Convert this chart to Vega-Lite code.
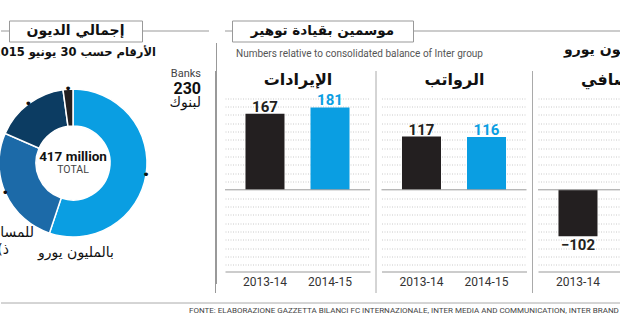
{
  "$schema": "https://vega.github.io/schema/vega-lite/v6.json",
  "autosize": "pad",
  "padding": {"left": -8, "top": 19.5, "right": 0, "bottom": 0},
  "config": {"view": {"stroke": null}, "font": "DejaVu Sans"},
  "resolve": {"scale": {"color": "independent"}},
  "datasets": {
    "debt": [
      {"source": "Banks", "value": 230},
      {"source": "Shareholders", "value": 110},
      {"source": "Other lenders", "value": 68},
      {"source": "Other", "value": 9}
    ],
    "seasons": [
      {"metric": "revenue", "season": "2013-14", "value": 167},
      {"metric": "revenue", "season": "2014-15", "value": 181},
      {"metric": "wages", "season": "2013-14", "value": 117},
      {"metric": "wages", "season": "2014-15", "value": 116},
      {"metric": "net", "season": "2013-14", "value": -102},
      {"metric": "net", "season": "2014-15", "value": -140}
    ]
  },
  "spacing": 9.5,
  "vconcat": [
    {
      "spacing": -1,
      "resolve": {"scale": {"color": "independent"}},
      "hconcat": [
        {
          "spacing": 0,
          "vconcat": [
            {
              "spacing": 0,
              "bounds": "flush",
              "hconcat": [
                {"width": 8, "height": 21, "data": {"values": [{"part": "frame"}]}, "mark": {"type": "rule", "color": "#999"}, "encoding": {"y": {"datum": 0, "type": "quantitative", "scale": {"domain": [-1, 1]}, "axis": null}}},
                {"width": 133, "height": 21, "view": {"stroke": "#999", "fill": "white"}, "data": {"values": [{"label": "إجمالي الديون"}]}, "mark": {"type": "text", "font": "DejaVu Sans", "fontSize": 14, "fontWeight": "bold", "color": "#111"}, "encoding": {"text": {"field": "label"}}},
                {"width": 67, "height": 21, "data": {"values": [{"part": "frame"}]}, "mark": {"type": "rule", "color": "#999"}, "encoding": {"y": {"datum": 0, "type": "quantitative", "scale": {"domain": [-1, 1]}, "axis": null}}}
              ]
            },
            {
              "width": 144,
              "height": 241,
              "data": {"name": "debt"},
              "layer": [
                {
                  "transform": [{"filter": "datum.source == 'Banks'"}],
                  "mark": {"type": "rule", "opacity": 0},
                  "encoding": {"y": {"datum": 0, "type": "quantitative", "scale": {"domain": [0, 1]}, "axis": {"orient": "right", "offset": 71, "domain": true, "domainColor": "#999", "labels": false, "ticks": false, "grid": false, "title": null}}}
                },
                {
                  "mark": {"type": "arc", "radius": 74, "radius2": 37, "stroke": "white", "strokeWidth": 1.5},
                  "encoding": {
                    "theta": {"field": "value", "type": "quantitative", "stack": true},
                    "order": {"field": "value", "type": "quantitative", "sort": "descending"},
                    "color": {"field": "source", "type": "nominal", "scale": {"domain": ["Banks", "Shareholders", "Other lenders", "Other"], "range": ["#0a9ee2", "#1c6aa8", "#0c3c62", "#231f20"]}, "legend": null}
                  }
                },
                {
                  "mark": {"type": "text", "text": "•", "radius": 74, "fontSize": 13, "color": "#111"},
                  "encoding": {
                    "theta": {"field": "value", "type": "quantitative", "stack": true},
                    "order": {"field": "value", "type": "quantitative", "sort": "descending"}
                  }
                },
                {
                  "transform": [{"filter": "datum.source == 'Banks'"}],
                  "mark": {"type": "text", "radius": 74, "align": "right", "dx": 55, "dy": -101, "fontSize": 11, "font": "Liberation Sans Narrow, Roboto, sans-serif", "color": "#444"},
                  "encoding": {
                    "theta": {"field": "value", "type": "quantitative", "stack": true},
                    "text": {"field": "source"}
                  }
                },
                {
                  "transform": [{"filter": "datum.source == 'Banks'"}],
                  "mark": {"type": "text", "radius": 74, "align": "right", "dx": 55, "dy": -86, "fontSize": 16, "fontWeight": "bold", "font": "Liberation Sans Narrow, Roboto, sans-serif", "color": "#111"},
                  "encoding": {
                    "theta": {"field": "value", "type": "quantitative", "stack": true},
                    "text": {"field": "value"}
                  }
                },
                {
                  "transform": [{"filter": "datum.source == 'Banks'"}],
                  "mark": {"type": "text", "radius": 74, "align": "right", "dx": 55, "dy": -72, "fontSize": 14, "font": "DejaVu Sans", "color": "#111"},
                  "encoding": {
                    "theta": {"field": "value", "type": "quantitative", "stack": true},
                    "text": {"value": "لبنوك"}
                  }
                },
                {
                  "transform": [{"filter": "datum.source == 'Shareholders'"}],
                  "mark": {"type": "text", "align": "right", "dx": -39, "dy": 70, "fontSize": 14, "font": "DejaVu Sans", "color": "#111", "limit": 34, "ellipsis": "\u200b"},
                  "encoding": {"text": {"value": "للمساهمين"}}
                },
                {
                  "transform": [{"filter": "datum.source == 'Shareholders'"}],
                  "mark": {"type": "text", "align": "right", "dx": -64, "dy": 87, "fontSize": 14, "font": "DejaVu Sans", "color": "#111"},
                  "encoding": {"text": {"value": "\u200e(ذ"}}
                },
                {
                  "transform": [{"filter": "datum.source == 'Banks'"}],
                  "mark": {"type": "text", "align": "right", "dx": 83, "dy": -110, "fontSize": 11.5, "fontWeight": "bold", "font": "DejaVu Sans", "color": "#111"},
                  "encoding": {"text": {"value": "الأرقام حسب 30 يونيو 2015"}}
                },
                {
                  "transform": [{"filter": "datum.source == 'Banks'"}],
                  "mark": {"type": "text", "dy": -6, "fontSize": 13.5, "fontWeight": "bold", "font": "Liberation Sans Narrow, Roboto, sans-serif", "color": "#111"},
                  "encoding": {"text": {"value": "417 million"}}
                },
                {
                  "transform": [{"filter": "datum.source == 'Banks'"}],
                  "mark": {"type": "text", "dy": 7, "fontSize": 10.5, "font": "Liberation Sans Narrow, Roboto, sans-serif", "color": "#444"},
                  "encoding": {"text": {"value": "TOTAL"}}
                },
                {
                  "transform": [{"filter": "datum.source == 'Banks'"}],
                  "mark": {"type": "text", "dx": 3, "dy": 90, "fontSize": 14, "font": "DejaVu Sans", "color": "#111"},
                  "encoding": {"text": {"value": "بالمليون يورو"}}
                }
              ]
            }
          ]
        },
        {
          "spacing": 0,
          "vconcat": [
            {
              "spacing": 0,
              "bounds": "flush",
              "hconcat": [
                {"width": 7, "height": 21, "data": {"values": [{"part": "frame"}]}, "mark": {"type": "rule", "color": "#999"}, "encoding": {"y": {"datum": 0, "type": "quantitative", "scale": {"domain": [-1, 1]}, "axis": null}}},
                {"width": 181, "height": 21, "view": {"stroke": "#999", "fill": "white"}, "data": {"values": [{"label": "موسمين بقيادة توهير"}]}, "mark": {"type": "text", "font": "DejaVu Sans", "fontSize": 13.5, "fontWeight": "bold", "color": "#111"}, "encoding": {"text": {"field": "label"}}},
                {"width": 271, "height": 21, "data": {"values": [{"part": "frame"}]}, "mark": {"type": "rule", "color": "#999"}, "encoding": {"y": {"datum": 0, "type": "quantitative", "scale": {"domain": [-1, 1]}, "axis": null}}}
              ]
            },
            {
              "spacing": 11.5,
              "bounds": "flush",
              "hconcat": [
                {
                  "width": 145,
                  "height": 222,
                  "data": {"name": "seasons"},
                  "transform": [{"filter": "datum.metric == 'revenue'"}],
                  "title": {"text": "Numbers relative to consolidated balance of Inter group", "anchor": "start", "frame": "group", "dx": 11, "offset": 12, "fontSize": 10, "fontWeight": "normal", "font": "Liberation Sans Narrow, Roboto, sans-serif", "color": "#555"},
                  "resolve": {"axis": {"x": "independent", "y": "independent"}},
                  "layer": [
                    {
                      "mark": {"type": "bar"},
                      "encoding": {
                        "x": {"field": "season", "type": "nominal", "scale": {"paddingInner": 0.4, "paddingOuter": 0.315}, "axis": {"orient": "bottom", "offset": -21, "domain": true, "domainColor": "#999", "ticks": false, "labelAngle": 0, "labelPadding": 5, "labelFontSize": 12, "labelColor": "#333", "labelFont": "Liberation Sans Narrow, Roboto, sans-serif", "title": null}},
                        "y": {"field": "value", "type": "quantitative", "scale": {"domain": [-225.7, 262.2], "nice": false, "zero": false}, "axis": {"orient": "left", "offset": 10, "values": [-164.7, -146.4, -128.1, -109.8, -91.5, -73.2, -54.9, -36.6, -18.3, 18.3, 36.6, 54.9, 73.2, 91.5, 109.8, 128.1, 146.4, 164.7, 183, 201.3], "grid": true, "gridColor": "#cacaca", "gridDash": [1, 1.5], "domain": true, "domainColor": "#999", "labels": false, "ticks": false, "title": null}},
                        "color": {"field": "season", "type": "nominal", "scale": {"domain": ["2013-14", "2014-15"], "range": ["#231f20", "#0a9ee2"]}, "legend": null}
                      }
                    },
                    {
                      "transform": [{"filter": "datum.season == '2013-14'"}],
                      "mark": {"type": "rule", "color": "#999"},
                      "encoding": {"y": {"datum": 0, "type": "quantitative", "axis": null}}
                    },
                    {
                      "transform": [{"filter": "datum.value > 0"}],
                      "mark": {"type": "text", "baseline": "alphabetic", "dy": -2, "fontSize": 15, "fontWeight": "bold", "font": "Liberation Sans Narrow, Roboto, sans-serif"},
                      "encoding": {
                        "x": {"field": "season", "type": "nominal", "axis": {"orient": "top", "offset": -17, "domain": false, "ticks": false, "labels": false, "title": "الإيرادات", "titleFont": "DejaVu Sans", "titleFontSize": 16, "titleFontWeight": "bold", "titleColor": "#111", "titlePadding": 0}},
                        "y": {"field": "value", "type": "quantitative", "axis": null},
                        "text": {"field": "value", "type": "quantitative"},
                        "color": {"field": "season", "type": "nominal", "legend": null}
                      }
                    }
                  ]
                },
                {
                  "width": 145,
                  "height": 222,
                  "data": {"name": "seasons"},
                  "transform": [{"filter": "datum.metric == 'wages'"}],
                  "resolve": {"axis": {"x": "independent", "y": "independent"}},
                  "layer": [
                    {
                      "mark": {"type": "bar"},
                      "encoding": {
                        "x": {"field": "season", "type": "nominal", "scale": {"paddingInner": 0.4, "paddingOuter": 0.315}, "axis": {"orient": "bottom", "offset": -21, "domain": true, "domainColor": "#999", "ticks": false, "labelAngle": 0, "labelPadding": 5, "labelFontSize": 12, "labelColor": "#333", "labelFont": "Liberation Sans Narrow, Roboto, sans-serif", "title": null}},
                        "y": {"field": "value", "type": "quantitative", "scale": {"domain": [-225.7, 262.2], "nice": false, "zero": false}, "axis": {"orient": "left", "offset": 6, "values": [-164.7, -146.4, -128.1, -109.8, -91.5, -73.2, -54.9, -36.6, -18.3, 18.3, 36.6, 54.9, 73.2, 91.5, 109.8, 128.1, 146.4, 164.7, 183, 201.3], "grid": true, "gridColor": "#cacaca", "gridDash": [1, 1.5], "domain": true, "domainColor": "#aaa", "labels": false, "ticks": false, "title": null}},
                        "color": {"field": "season", "type": "nominal", "scale": {"domain": ["2013-14", "2014-15"], "range": ["#231f20", "#0a9ee2"]}, "legend": null}
                      }
                    },
                    {
                      "transform": [{"filter": "datum.season == '2013-14'"}],
                      "mark": {"type": "rule", "color": "#999"},
                      "encoding": {"y": {"datum": 0, "type": "quantitative", "axis": null}}
                    },
                    {
                      "transform": [{"filter": "datum.value > 0"}],
                      "mark": {"type": "text", "baseline": "alphabetic", "dy": -2, "fontSize": 15, "fontWeight": "bold", "font": "Liberation Sans Narrow, Roboto, sans-serif"},
                      "encoding": {
                        "x": {"field": "season", "type": "nominal", "axis": {"orient": "top", "offset": -17, "domain": false, "ticks": false, "labels": false, "title": "الرواتب", "titleFont": "DejaVu Sans", "titleFontSize": 16, "titleFontWeight": "bold", "titleColor": "#111", "titlePadding": 0}},
                        "y": {"field": "value", "type": "quantitative", "axis": null},
                        "text": {"field": "value", "type": "quantitative"},
                        "color": {"field": "season", "type": "nominal", "legend": null}
                      }
                    }
                  ]
                },
                {
                  "width": 145,
                  "height": 222,
                  "data": {"name": "seasons"},
                  "transform": [{"filter": "datum.metric == 'net'"}],
                  "title": {"text": "بالمليون يورو", "anchor": "middle", "frame": "group", "offset": 14, "fontSize": 14, "fontWeight": "bold", "font": "DejaVu Sans", "color": "#111"},
                  "resolve": {"axis": {"x": "independent", "y": "independent"}},
                  "layer": [
                    {
                      "mark": {"type": "bar"},
                      "encoding": {
                        "x": {"field": "season", "type": "nominal", "scale": {"paddingInner": 0.4, "paddingOuter": 0.315}, "axis": {"orient": "bottom", "offset": -21, "domain": true, "domainColor": "#999", "ticks": false, "labelAngle": 0, "labelPadding": 5, "labelFontSize": 12, "labelColor": "#333", "labelFont": "Liberation Sans Narrow, Roboto, sans-serif", "title": null}},
                        "y": {"field": "value", "type": "quantitative", "scale": {"domain": [-225.7, 262.2], "nice": false, "zero": false}, "axis": {"orient": "left", "offset": 6, "values": [-164.7, -146.4, -128.1, -109.8, -91.5, -73.2, -54.9, -36.6, -18.3, 18.3, 36.6, 54.9, 73.2, 91.5, 109.8, 128.1, 146.4, 164.7, 183, 201.3], "grid": true, "gridColor": "#cacaca", "gridDash": [1, 1.5], "domain": true, "domainColor": "#aaa", "labels": false, "ticks": false, "title": null}},
                        "color": {"field": "season", "type": "nominal", "scale": {"domain": ["2013-14", "2014-15"], "range": ["#231f20", "#0a9ee2"]}, "legend": null}
                      }
                    },
                    {
                      "transform": [{"filter": "datum.season == '2013-14'"}],
                      "mark": {"type": "rule", "color": "#999"},
                      "encoding": {"y": {"datum": 0, "type": "quantitative", "axis": null}}
                    },
                    {
                      "transform": [{"filter": "datum.value < 0"}],
                      "mark": {"type": "text", "baseline": "top", "dy": 2, "fontSize": 15, "fontWeight": "bold", "font": "Liberation Sans Narrow, Roboto, sans-serif"},
                      "encoding": {
                        "x": {"field": "season", "type": "nominal", "axis": {"orient": "top", "offset": -17, "domain": false, "ticks": false, "labels": false, "title": "الصافي", "titleFont": "DejaVu Sans", "titleFontSize": 16, "titleFontWeight": "bold", "titleColor": "#111", "titlePadding": 0}},
                        "y": {"field": "value", "type": "quantitative", "axis": null},
                        "text": {"field": "value", "type": "quantitative"},
                        "color": {"field": "season", "type": "nominal", "legend": null}
                      }
                    }
                  ]
                }
              ]
            }
          ]
        }
      ]
    },
    {
      "width": 700,
      "height": 1,
      "data": {"values": [{"part": "frame"}]},
      "title": {"text": "FONTE: ELABORAZIONE GAZZETTA BILANCI FC INTERNAZIONALE, INTER MEDIA AND COMMUNICATION, INTER BRAND E INTER FUTURA", "orient": "bottom", "anchor": "start", "frame": "group", "dx": 188, "offset": 3, "fontSize": 8, "fontWeight": "normal", "font": "Liberation Sans Narrow, Roboto, sans-serif", "color": "#444"},
      "mark": {"type": "rule", "color": "#aaa"},
      "encoding": {"y": {"datum": 0, "type": "quantitative", "scale": {"domain": [0, 1]}, "axis": null}}
    }
  ]
}
